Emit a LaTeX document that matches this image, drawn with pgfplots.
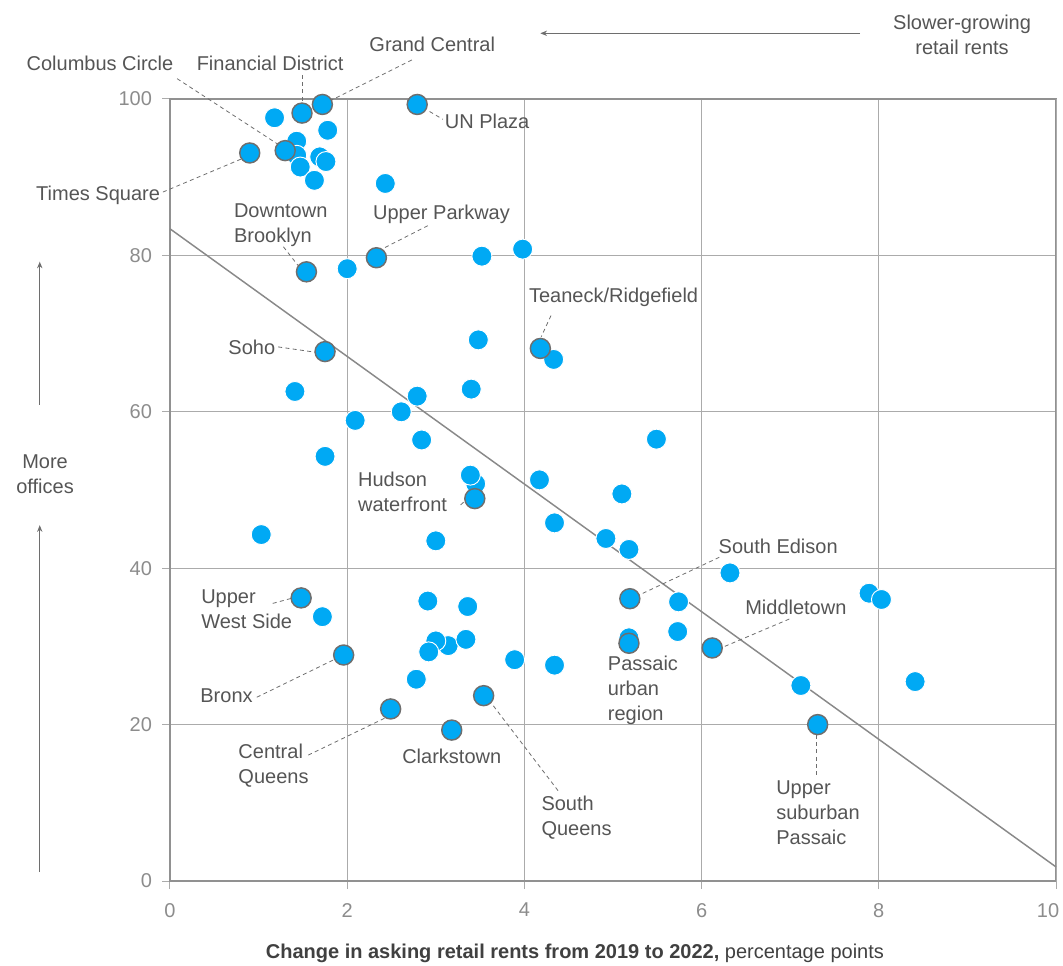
\documentclass[border=0pt]{standalone}
\usepackage{fontspec}
\setmainfont{Liberation Sans}
\usepackage{pgfplots}
\pgfplotsset{compat=1.18}
\usetikzlibrary{arrows.meta}
\definecolor{dot}{HTML}{00A9F4}
\definecolor{txt}{HTML}{555555}
\definecolor{tickc}{HTML}{8C8C8C}
\definecolor{gridc}{HTML}{ABABAB}
\definecolor{ring}{HTML}{6E6E6E}
\newcommand{\lab}{\fontsize{15}{18.75}\selectfont}
\begin{document}
\begin{tikzpicture}
\begin{axis}[
 at={(0,0)}, anchor=south west,
 scale only axis, width=664.5pt, height=586.5pt,
 xmin=0, xmax=10, ymin=0, ymax=100,
 xtick={0,2,...,8}, ytick={0,20,...,100},
 extra x ticks={10},
 extra x tick style={xticklabel style={xshift=-6pt}},
 xtick pos=bottom, ytick pos=left,
 grid=major, major grid style={gridc, line width=0.75pt},
 axis line style={gridc!85!black, line width=1pt},
 tick style={gridc, line width=0.75pt},
 tick align=outside, major tick length=6pt,
 tick label style={font=\lab, text=tickc},
 /pgf/number format/assume math mode=true,
 xticklabel style={yshift=-7pt},
 yticklabel style={xshift=-4pt},
 clip=false,
]
% trend line
\addplot[gridc!80!black, line width=1.1pt] coordinates {(0,83.4) (10,1.8)};
% unlabelled points
\addplot[only marks, mark=*, mark size=7.5pt, mark options={fill=dot, draw=white, line width=0.7pt}] coordinates {
(1.18,97.6) (1.78,96.0) (1.43,94.6) (1.43,92.8) (1.69,92.6) (1.76,92.0) (1.47,91.3) (1.63,89.6)
(2.43,89.2) (2.00,78.3) (3.52,79.9) (3.98,80.8) (3.48,69.2) (4.33,66.7) (1.41,62.6) (3.40,62.9)
(2.79,62.0) (2.61,60.0) (2.09,58.9) (2.84,56.4) (1.75,54.3) (3.45,50.8) (3.39,51.9) (4.17,51.3)
(4.34,45.8) (1.03,44.3) (3.00,43.5) (1.72,33.8) (2.91,35.8) (3.36,35.1) (5.49,56.5) (5.10,49.5)
(4.92,43.8) (5.18,42.4) (6.32,39.4) (5.74,35.7) (7.89,36.8) (8.03,36.0) (5.73,31.9) (5.18,31.1)
(3.14,30.1) (3.00,30.7) (3.34,30.9) (2.92,29.3) (3.89,28.3) (4.34,27.6) (2.78,25.8) (7.12,25.0)
(8.41,25.5)
};
% labelled points
\addplot[only marks, mark=*, mark size=7.5pt, mark options={fill=dot, draw=ring, line width=1.1pt}] coordinates {
(1.49,98.2) (1.72,99.3) (2.79,99.3) (1.30,93.4) (0.90,93.1) (1.54,77.9) (2.33,79.7) (4.18,68.1)
(1.75,67.7) (3.44,48.9) (1.48,36.2) (5.19,36.1) (5.18,30.4) (6.12,29.8) (1.96,28.9) (3.54,23.7)
(2.49,22.0) (3.18,19.3) (7.31,20.0)
};
% leaders
\begin{scope}[ring, dash pattern=on 3pt off 2.5pt, line width=0.6pt]
\draw (axis cs:0.08,102.6) -- (axis cs:1.22,94.2);
\draw (axis cs:1.50,103.1) -- (axis cs:1.50,99.5);
\draw (axis cs:2.73,105.0) -- (axis cs:1.83,99.9);
\draw (axis cs:2.93,98.4) -- (axis cs:3.08,97.4);
\draw (axis cs:-0.08,88.1) -- (axis cs:0.82,92.4);
\draw (axis cs:1.28,81.1) -- (axis cs:1.46,78.5);
\draw (axis cs:2.91,83.8) -- (axis cs:2.39,80.8);
\draw (axis cs:4.30,72.3) -- (axis cs:4.19,69.6);
\draw (axis cs:1.22,68.3) -- (axis cs:1.65,67.6);
\draw (axis cs:3.28,48.1) -- (axis cs:3.34,48.7);
\draw (axis cs:6.20,41.4) -- (axis cs:5.32,36.7);
\draw (axis cs:6.99,33.5) -- (axis cs:6.24,29.9);
\draw (axis cs:1.16,35.5) -- (axis cs:1.42,36.3);
\draw (axis cs:0.98,23.5) -- (axis cs:1.85,28.3);
\draw (axis cs:1.56,16.1) -- (axis cs:2.42,20.8);
\draw (axis cs:3.65,22.4) -- (axis cs:4.39,11.4);
\draw (axis cs:7.29,18.7) -- (axis cs:7.29,13.6);
\end{scope}
% labels
\begin{scope}[every node/.style={text=txt, font=\lab, align=left, inner sep=0pt}]
\node[anchor=center] at (axis cs:-0.79,104.5) {Columbus Circle};
\node[anchor=center] at (axis cs:1.13,104.6) {Financial District};
\node[anchor=center] at (axis cs:2.96,107.0) {Grand Central};
\node[anchor=west] at (axis cs:3.10,97.2) {UN Plaza};
\node[anchor=east] at (axis cs:-0.11,87.7) {Times Square};
\node[anchor=west] at (axis cs:0.72,83.8) {Downtown\\Brooklyn};
\node[anchor=west] at (axis cs:2.29,85.2) {Upper Parkway};
\node[anchor=west] at (axis cs:4.05,74.6) {Teaneck/Ridgefield};
\node[anchor=east] at (axis cs:1.19,68.3) {Soho};
\node[anchor=west] at (axis cs:2.12,49.7) {Hudson\\waterfront};
\node[anchor=west] at (axis cs:6.19,42.8) {South Edison};
\node[anchor=west] at (axis cs:6.49,35.0) {Middletown};
\node[anchor=west] at (axis cs:0.35,34.8) {Upper\\West Side};
\node[anchor=west] at (axis cs:0.34,23.7) {Bronx};
\node[anchor=west] at (axis cs:0.77,14.7) {Central\\Queens};
\node[anchor=center] at (axis cs:3.18,15.9) {Clarkstown};
\node[anchor=west] at (axis cs:4.19,8.1) {South\\Queens};
\node[anchor=west] at (axis cs:4.94,24.4) {Passaic\\urban\\region};
\node[anchor=west] at (axis cs:6.84,8.7) {Upper\\suburban\\Passaic};
\node[anchor=center, align=center] at (axis cs:-1.41,52.0) {More\\offices};
\node[anchor=center, align=center] at (axis cs:8.94,108.2) {Slower-growing\\retail rents};
\node[anchor=center, text=black!75] at (axis cs:4.57,-9.3) {\textbf{Change in asking retail rents from 2019 to 2022,} percentage points};
\end{scope}
% arrows
\begin{scope}[ring, line width=0.75pt, -{Stealth[length=5pt, width=4pt]}]
\draw (axis cs:-1.47,60.9) -- (axis cs:-1.47,79.2);
\draw (axis cs:-1.47,1.15) -- (axis cs:-1.47,45.5);
\draw (axis cs:7.79,108.4) -- (axis cs:4.18,108.4);
\end{scope}
\end{axis}
\pgfresetboundingbox
\path[use as bounding box] (-127.5pt,-63pt) rectangle (669.75pt,660.75pt);
\end{tikzpicture}
\end{document}
